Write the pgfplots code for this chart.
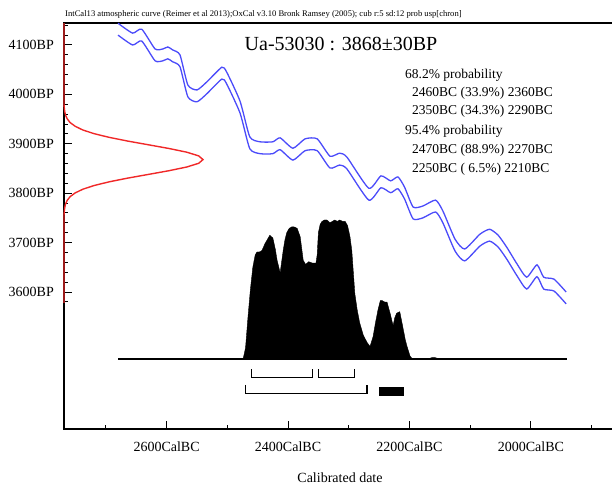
\documentclass[border=0pt]{standalone}
\usepackage{pgfplots}
\pgfplotsset{compat=1.18}
\usepackage{fontspec}
\setmainfont{Liberation Serif}
\definecolor{calblue}{RGB}{75,75,250}
\definecolor{probred}{RGB}{240,40,40}

% calibration curve: upper and lower 1-sigma envelope (BC, BP)
\pgfplotstableread{
bc bp
2680 4144
2656 4124
2641 4132
2619 4092
2606 4092
2598 4096
2590 4090
2578 4080
2565 4019
2550 4009
2534 4025
2509 4055
2501 4045
2479 3986
2463 3914
2446 3904
2425 3904
2413 3912
2392 3891
2372 3910
2352 3910
2331 3875
2315 3881
2303 3873
2267 3810
2247 3835
2231 3825
2219 3833
2208 3812
2194 3772
2178 3774
2157 3786
2145 3764
2125 3707
2109 3687
2084 3717
2068 3727
2054 3715
2040 3691
2023 3657
2007 3630
1990 3655
1979 3630
1962 3626
1942 3600
}\curveupper
\pgfplotstableread{
bc bp
2680 4120
2656 4100
2641 4108
2619 4068
2606 4068
2598 4072
2590 4066
2578 4056
2565 3995
2550 3985
2534 4001
2509 4031
2501 4021
2479 3962
2463 3890
2446 3880
2425 3880
2413 3888
2392 3867
2372 3886
2352 3886
2331 3851
2315 3857
2303 3849
2267 3786
2247 3811
2231 3801
2219 3809
2208 3788
2194 3748
2178 3750
2157 3762
2145 3740
2125 3683
2109 3663
2084 3693
2068 3703
2054 3691
2040 3667
2023 3633
2007 3606
1990 3631
1979 3606
1962 3602
1942 3576
}\curvelower
% calibrated date distribution (relative probability)
\pgfplotstableread{
bc p
2480 0
2474 0.00
2470 0.08
2466 0.30
2462 0.50
2458 0.66
2454 0.75
2451 0.77
2447 0.77
2443 0.78
2438 0.83
2434 0.86
2430 0.89
2425 0.87
2421 0.79
2418 0.71
2413 0.62
2408 0.78
2405 0.86
2402 0.91
2398 0.94
2394 0.95
2390 0.95
2385 0.94
2380 0.88
2375 0.71
2371 0.68
2366 0.70
2360 0.69
2354 0.69
2352 0.75
2350 0.91
2347 0.97
2344 0.99
2340 1.00
2336 1.00
2331 0.98
2327 0.99
2323 1.00
2319 0.99
2315 1.00
2310 0.99
2306 0.99
2302 0.96
2298 0.88
2295 0.78
2290 0.47
2286 0.35
2282 0.26
2276 0.17
2270 0.12
2265 0.09
2260 0.16
2256 0.26
2252 0.35
2248 0.42
2245 0.42
2241 0.41
2237 0.41
2232 0.33
2227 0.24
2224 0.30
2221 0.33
2216 0.34
2211 0.23
2207 0.14
2204 0.09
2199 0.02
2195 0.00
2170 0.00
2163 0.01
2158 0.01
2150 0.00
}\caldist
% radiocarbon measurement 3868 +/- 30 BP (relative probability, BP)
\pgfplotstableread{
p bp
0 4144
0 3980
0.002 3973
0.005 3965.5
0.011 3958
0.023 3950.5
0.044 3943
0.080 3935.5
0.135 3928
0.216 3920.5
0.325 3913
0.458 3905.5
0.607 3898
0.755 3890.5
0.883 3883
0.969 3875.5
1.000 3868
0.969 3860.5
0.883 3853
0.755 3845.5
0.607 3838
0.458 3830.5
0.325 3823
0.216 3815.5
0.135 3808
0.080 3800.5
0.044 3793
0.023 3785.5
0.011 3778
0.005 3770.5
0.002 3763
0 3756
0 3578
}\measured

\begin{document}
\begin{tikzpicture}
\pgfplotsset{oxframe/.style={scale only axis, width=560pt, height=406pt,
  at={(0,0)}, anchor=south west}}

% frame with calendar and radiocarbon scales
\begin{axis}[oxframe, x dir=reverse,
  xmin=1846.7, xmax=2769, ymin=3322.7, ymax=4144.5,
  xtick={2600,2400,2200,2000},
  xticklabels={2600CalBC,2400CalBC,2200CalBC,2000CalBC},
  minor xtick={2700,2500,2300,2100,1900},
  ytick={3600,3700,3800,3900,4000,4100},
  yticklabels={3600BP,3700BP,3800BP,3900BP,4000BP,4100BP},
  minor ytick={3580,3600,...,4140},
  xtick pos=bottom, ytick pos=left, tick align=inside,
  major tick length=8pt, minor tick length=4pt,
  axis line style={line width=1.2pt},
  every tick/.style={black, line width=1pt},
  ticklabel style={font=\fontsize{14}{16}\selectfont},
  xticklabel style={anchor=north, inner sep=0pt, yshift=-13pt},
  yticklabel style={anchor=east, inner sep=0pt, xshift=-10pt},
]
\addplot[calblue, line width=1.3pt, smooth, tension=0.35] table[x=bc, y=bp] {\curveupper};
\addplot[calblue, line width=1.3pt, smooth, tension=0.35] table[x=bc, y=bp] {\curvelower};
\end{axis}

% calibrated distribution and probability ranges
\begin{axis}[oxframe, hide axis, x dir=reverse,
  xmin=1846.7, xmax=2769, ymin=-0.5036, ymax=2.4173]
\addplot[black, fill=black, line width=0.4pt] table[x=bc, y=p] {\caldist} \closedcycle;
\addplot[black, line width=1.2pt] coordinates {(2680,0) (1940,0)};
% 68.2% ranges
\addplot[black, line width=1.1pt] coordinates {(2460,-0.074) (2460,-0.1345) (2360,-0.1345) (2360,-0.074)};
\addplot[black, line width=1.1pt] coordinates {(2350,-0.074) (2350,-0.1345) (2290,-0.1345) (2290,-0.074)};
% 95.4% ranges
\addplot[black, line width=1.1pt] coordinates {(2470,-0.187) (2470,-0.247) (2270,-0.247) (2270,-0.187)};
\addplot[black, fill=black, line width=0.6pt] coordinates {(2250,-0.204) (2210,-0.204) (2210,-0.259) (2250,-0.259)} -- cycle;
\end{axis}

% radiocarbon measurement along the BP scale
\begin{axis}[oxframe, hide axis, clip=false,
  xmin=0, xmax=4.0288, ymin=3322.7, ymax=4144.5]
\addplot[probred, line width=1.4pt] table[x=p, y=bp] {\measured};
\end{axis}

\node[anchor=west, inner sep=0pt, font=\fontsize{8.6}{9}\selectfont] at (1pt,415pt)
  {IntCal13 atmospheric curve (Reimer et al 2013);OxCal v3.10 Bronk Ramsey (2005); cub r:5 sd:12 prob usp[chron]};
\node[inner sep=0pt, font=\fontsize{20}{22}\selectfont] at (277pt,385pt) {Ua-53030 : 3868±30BP};

\begin{scope}[every node/.style={anchor=base west, inner sep=0pt, font=\fontsize{13.5}{15}\selectfont}]
\node at (341pt,350.5pt) {68.2\% probability};
\node at (348pt,332.5pt) {2460BC (33.9\%) 2360BC};
\node at (348pt,314.5pt) {2350BC (34.3\%) 2290BC};
\node at (341pt,294.5pt) {95.4\% probability};
\node at (348pt,275.5pt) {2470BC (88.9\%) 2270BC};
\node at (348pt,256.5pt) {2250BC ( 6.5\%) 2210BC};
\end{scope}

\node[inner sep=0pt, font=\fontsize{14}{16}\selectfont] at (276pt,-49pt) {Calibrated date};

\pgfresetboundingbox
\path[use as bounding box] (-64pt,-60pt) rectangle (548pt,429pt);
\end{tikzpicture}
\end{document}
